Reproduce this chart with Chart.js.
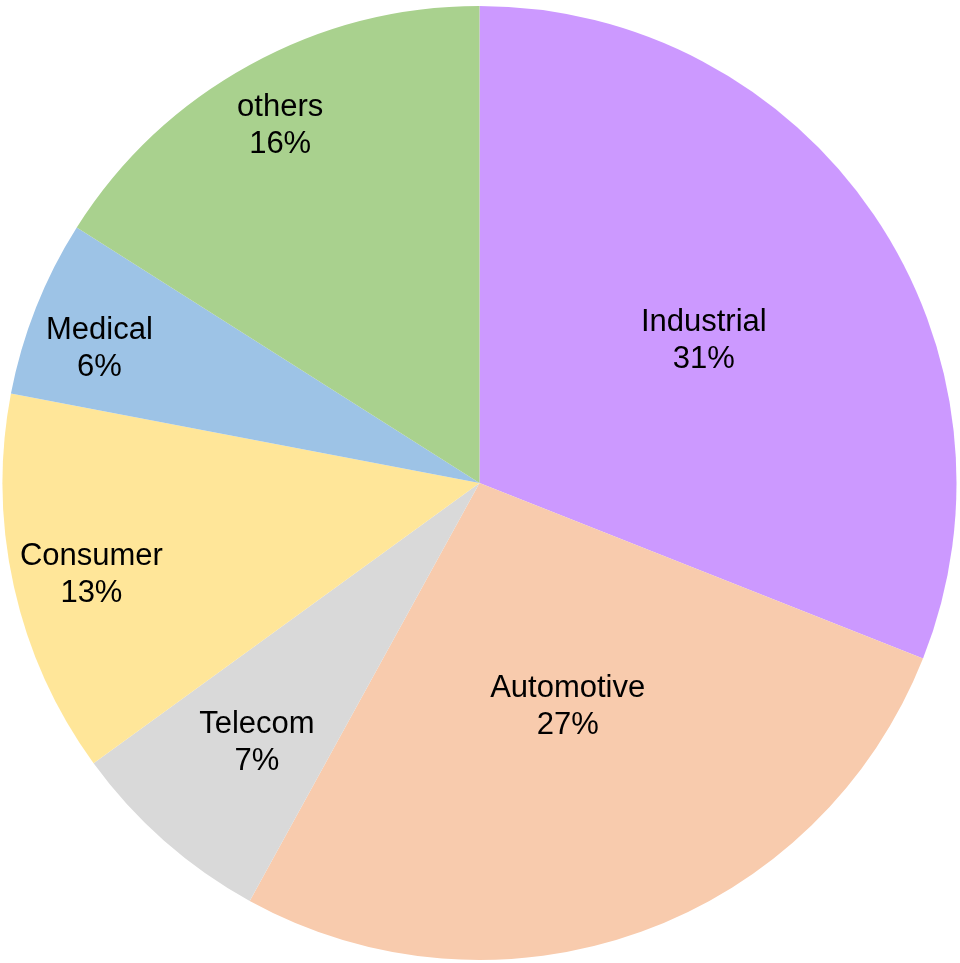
<!DOCTYPE html>
<html>
<head>
<meta charset="utf-8">
<style>
  html, body { margin: 0; padding: 0; background: #ffffff; }
  #wrap { width: 960px; height: 963px; }
</style>
<script src="https://cdn.jsdelivr.net/npm/chart.js@4"></script>
</head>
<body>
<div id="wrap"><canvas id="pieChart"></canvas></div>
<script>
// Chart data
const categories = ['Industrial', 'Automotive', 'Telecom', 'Consumer', 'Medical', 'others'];
const shares = [31, 27, 7, 13, 6, 16];
const sliceColors = ['#CC99FF', '#F8CBAD', '#D9D9D9', '#FFE699', '#9DC3E6', '#A9D18E'];

// label placement: fraction of radius along the slice's mid-angle, plus a small angle nudge (deg)
const labelRadius = [0.56, 0.50, 0.714, 0.835, 0.847, 0.862];
const labelNudge = [1.3, -1.9, -0.6, -0.4, -1.8, -0.2];

// Draws "name / pct%" inside each slice
const sliceLabels = {
    id: 'sliceLabels',
    afterDatasetsDraw(chart) {
        const ctx = chart.ctx;
        const meta = chart.getDatasetMeta(0);
        const fontSize = 31;
        const lineGap = 37;
        const capHalf = fontSize * 0.716 / 2;
        ctx.save();
        ctx.fillStyle = '#000000';
        ctx.font = fontSize + 'px "Liberation Sans", Arial, sans-serif';
        ctx.textAlign = 'center';
        ctx.textBaseline = 'alphabetic';
        meta.data.forEach((arc, i) => {
            const p = arc.getProps(['x', 'y', 'startAngle', 'endAngle', 'outerRadius'], true);
            const mid = (p.startAngle + p.endAngle) / 2 + labelNudge[i] * Math.PI / 180;
            const r = p.outerRadius * labelRadius[i];
            const x = p.x + Math.cos(mid) * r;
            const y = p.y + Math.sin(mid) * r;
            ctx.fillText(categories[i], x, y - lineGap / 2 + capHalf);
            ctx.fillText(shares[i] + '%', x, y + lineGap / 2 + capHalf);
        });
        ctx.restore();
    }
};

const ctx = document.getElementById('pieChart').getContext('2d');
new Chart(ctx, {
    type: 'pie',
    data: {
        labels: categories,
        datasets: [{
            data: shares,
            backgroundColor: sliceColors,
            borderWidth: 0
        }]
    },
    options: {
        responsive: true,
        maintainAspectRatio: false,
        animation: false,
        layout: { padding: { left: 2, right: 3, top: 6, bottom: 3 } },
        plugins: {
            legend: { display: false },
            tooltip: { enabled: false }
        }
    },
    plugins: [sliceLabels]
});
</script>
</body>
</html>
